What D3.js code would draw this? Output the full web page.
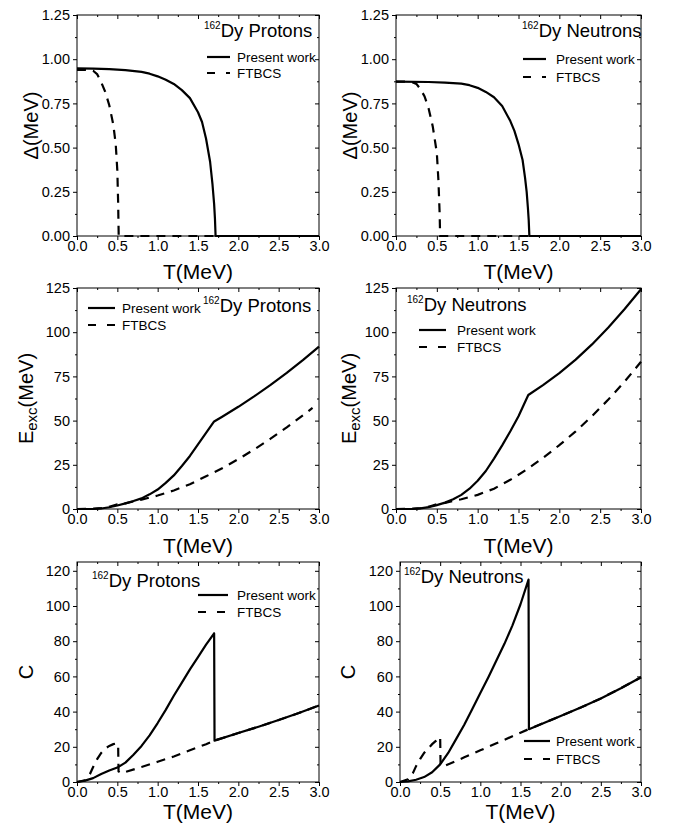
<!DOCTYPE html>
<html>
<head>
<meta charset="utf-8">
<script src="https://cdn.jsdelivr.net/npm/d3@7"></script>
<style>
body { margin: 0; background: #fff; }
svg { font-family: Arial, "Liberation Sans", sans-serif; }
</style>
</head>
<body>
<svg id="chart" width="673" height="830"></svg>
<script>
// Values: temperature T (MeV) and the quantity for each curve.

// Pairing gap, protons
var gapProtonPresentT = [0, 0.2, 0.4, 0.6, 0.8, 0.9, 1.0, 1.1, 1.2, 1.3, 1.4, 1.5, 1.55, 1.6, 1.65, 1.68, 1.7, 1.71, 1.718, 2.0, 2.5, 3.0];
var gapProtonPresent = [0.948, 0.947, 0.944, 0.938, 0.928, 0.918, 0.903, 0.884, 0.86, 0.825, 0.78, 0.70, 0.645, 0.55, 0.42, 0.29, 0.18, 0.10, 0, 0, 0, 0];
var gapProtonFtbcsT = [0, 0.1, 0.2, 0.25, 0.3, 0.35, 0.4, 0.45, 0.48, 0.5, 0.51, 0.517, 0.6, 1.0, 2.0, 3.0];
var gapProtonFtbcs = [0.94, 0.94, 0.935, 0.915, 0.87, 0.815, 0.74, 0.63, 0.52, 0.37, 0.19, 0, 0, 0, 0, 0];

// Pairing gap, neutrons
var gapNeutronPresentT = [0, 0.4, 0.6, 0.8, 0.9, 1.0, 1.1, 1.2, 1.3, 1.4, 1.45, 1.5, 1.55, 1.58, 1.6, 1.615, 1.625, 1.633, 2.0, 2.5, 3.0];
var gapNeutronPresent = [0.873, 0.871, 0.868, 0.862, 0.853, 0.838, 0.815, 0.785, 0.735, 0.65, 0.595, 0.52, 0.43, 0.33, 0.25, 0.16, 0.09, 0, 0, 0, 0];
var gapNeutronFtbcsT = [0, 0.1, 0.2, 0.25, 0.3, 0.35, 0.4, 0.45, 0.5, 0.52, 0.535, 0.54, 0.6, 1.0, 2.0, 3.0];
var gapNeutronFtbcs = [0.873, 0.873, 0.87, 0.86, 0.83, 0.79, 0.72, 0.62, 0.47, 0.31, 0.12, 0, 0, 0, 0, 0];

// Excitation energy, protons
var excProtonPresentT = [0, 0.2, 0.3, 0.4, 0.5, 0.6, 0.7, 0.8, 0.9, 1.0, 1.1, 1.2, 1.3, 1.4, 1.5, 1.6, 1.7, 1.8, 2.0, 2.2, 2.4, 2.6, 2.8, 3.0];
var excProtonPresent = [0, 0.05, 0.3, 1.0, 2.0, 3.2, 4.5, 6.0, 8.3, 11, 14.8, 19, 24.3, 30, 36.5, 43, 49.5, 52.2, 57.8, 63.8, 70.2, 77.0, 84.2, 91.8];
var excProtonFtbcsT = [0, 0.2, 0.3, 0.4, 0.5, 0.6, 0.8, 1.0, 1.2, 1.4, 1.6, 1.8, 2.0, 2.2, 2.4, 2.6, 2.8, 2.92];
var excProtonFtbcs = [0, 0.1, 0.5, 1.3, 2.6, 3.2, 5.3, 7.6, 10.5, 14, 18.5, 23, 28.2, 33.8, 39.8, 46.2, 53, 57.2];

// Excitation energy, neutrons
var excNeutronPresentT = [0, 0.2, 0.3, 0.4, 0.5, 0.6, 0.7, 0.8, 0.9, 1.0, 1.1, 1.2, 1.3, 1.4, 1.5, 1.6, 1.62, 1.8, 2.0, 2.2, 2.4, 2.6, 2.8, 3.0];
var excNeutronPresent = [0, 0.1, 0.4, 1.1, 2.2, 3.6, 5.5, 8, 11.5, 16, 21.5, 28.5, 36, 44, 52.5, 62.5, 64.5, 70.1, 76.9, 84.5, 93.1, 102.7, 113.1, 124.3];
var excNeutronFtbcsT = [0, 0.2, 0.3, 0.4, 0.5, 0.6, 0.8, 1.0, 1.2, 1.4, 1.6, 1.8, 2.0, 2.2, 2.4, 2.6, 2.8, 3.0];
var excNeutronFtbcs = [0, 0.1, 0.5, 1.3, 2.7, 3.5, 5.5, 8, 11.5, 16.5, 22.3, 28.9, 36.1, 43.9, 52.5, 61.9, 72.1, 83.3];

// Heat capacity, protons
var heatProtonPresentT = [0, 0.1, 0.2, 0.3, 0.4, 0.5, 0.6, 0.7, 0.8, 0.9, 1.0, 1.1, 1.2, 1.3, 1.4, 1.5, 1.6, 1.7, 1.705, 2.0, 2.25, 2.5, 2.75, 3.0];
var heatProtonPresent = [0, 0.8, 2.2, 4.5, 6.5, 8.2, 11, 15.5, 20.5, 26.5, 33.5, 41, 49, 56.5, 64, 71, 78, 84.5, 23.5, 27.8, 31.4, 35.2, 39.2, 43.5];
var heatProtonFtbcsT = [0, 0.1, 0.16, 0.2, 0.25, 0.3, 0.35, 0.4, 0.45, 0.5, 0.51, 0.515, 0.55, 0.8, 1.0, 1.2, 1.4, 1.6, 1.7, 2.0, 2.25, 2.5, 2.75, 3.0];
var heatProtonFtbcs = [0, 1, 4.5, 8.5, 13, 16.5, 19, 20.5, 21.5, 22, 21, 6, 5, 8.5, 11.5, 14.5, 18, 21.5, 23.5, 27.8, 31.4, 35.2, 39.2, 43.5];

// Heat capacity, neutrons
var heatNeutronPresentT = [0, 0.1, 0.2, 0.3, 0.4, 0.5, 0.6, 0.7, 0.8, 0.9, 1.0, 1.1, 1.2, 1.3, 1.4, 1.5, 1.6, 1.605, 2.0, 2.25, 2.5, 2.75, 3.0];
var heatNeutronPresent = [0, 0.4, 1.3, 2.8, 5.5, 10, 16.5, 24.5, 32.5, 41.5, 50.5, 59.5, 69, 78.5, 89, 101, 115, 30, 37.5, 42.3, 47.5, 53.3, 59.5];
var heatNeutronFtbcsT = [0, 0.1, 0.16, 0.2, 0.25, 0.3, 0.35, 0.4, 0.45, 0.5, 0.505, 0.55, 0.8, 1.0, 1.2, 1.4, 1.6, 2.0, 2.25, 2.5, 2.75, 3.0];
var heatNeutronFtbcs = [0, 1.5, 5, 9, 13, 16.5, 19, 21.5, 23.5, 25.5, 9.5, 9, 14, 18, 22, 26, 30, 37.5, 42.3, 47.5, 53.3, 59.5];

var xTicks = [0, 0.5, 1.0, 1.5, 2.0, 2.5, 3.0];
var seriesNames = ["Present work", "FTBCS"];

function zip(ts, vs) {
    return ts.map(function(t, i) { return [t, vs[i]]; });
}

// Layout of the six panels (pixel boxes, text placement).
var panels = [
    { box: [77, 319, 15, 236], ymax: 1.25, ystep: 0.25, fmt: ".2f", ylab: "gap", ylabX: 38,
      present: zip(gapProtonPresentT, gapProtonPresent), ftbcs: zip(gapProtonFtbcsT, gapProtonFtbcs),
      nucleus: "Protons", title: [204, 37], legend: [207, 230, 237, 57, 73], xlabY: 279 },
    { box: [396, 641, 15, 236], ymax: 1.25, ystep: 0.25, fmt: ".2f", ylab: "gap", ylabX: 357,
      present: zip(gapNeutronPresentT, gapNeutronPresent), ftbcs: zip(gapNeutronFtbcsT, gapNeutronFtbcs),
      nucleus: "Neutrons", title: [522, 37], legend: [523, 546, 556, 59, 77], xlabY: 279 },
    { box: [77, 319, 288, 509], ymax: 125, ystep: 25, fmt: "d", ylab: "exc", ylabX: 33,
      present: zip(excProtonPresentT, excProtonPresent), ftbcs: zip(excProtonFtbcsT, excProtonFtbcs),
      nucleus: "Protons", title: [203, 312], legend: [88, 115, 122, 308, 325], xlabY: 553 },
    { box: [396, 641, 288, 509], ymax: 125, ystep: 25, fmt: "d", ylab: "exc", ylabX: 356,
      present: zip(excNeutronPresentT, excNeutronPresent), ftbcs: zip(excNeutronFtbcsT, excNeutronFtbcs),
      nucleus: "Neutrons", title: [407, 311], legend: [419, 446, 457, 330, 347], xlabY: 553 },
    { box: [77, 319, 562, 782], ymax: 125, ystep: 20, fmt: "d", ylab: "C", ylabX: 33,
      present: zip(heatProtonPresentT, heatProtonPresent), ftbcs: zip(heatProtonFtbcsT, heatProtonFtbcs),
      nucleus: "Protons", title: [92, 587], legend: [198, 228, 237, 595, 612], xlabY: 819 },
    { box: [400, 641, 562, 782], ymax: 125, ystep: 20, fmt: "d", ylab: "C", ylabX: 355,
      present: zip(heatNeutronPresentT, heatNeutronPresent), ftbcs: zip(heatNeutronFtbcsT, heatNeutronFtbcs),
      nucleus: "Neutrons", title: [404, 583], legend: [524, 550, 556, 741, 759], xlabY: 819 }
];

var svg = d3.select("#chart");

panels.forEach(function(p) {
    var x = d3.scaleLinear().domain([0, 3]).range([p.box[0], p.box[1]]);
    var y = d3.scaleLinear().domain([0, p.ymax]).range([p.box[3], p.box[2]]);
    var g = svg.append("g");

    var last = p.ymax === 125 && p.ystep === 20 ? 120 : p.ymax;
    var yMajor = d3.range(0, last + 1e-9, p.ystep);
    var yMinor = d3.range(0, last + 1e-9, p.ystep / 2).filter(function(v) {
        return yMajor.indexOf(v) < 0;
    });
    var xMinor = d3.range(0.25, 3, 0.5);

    function styleAxis(a) {
        a.select(".domain").remove();
        a.selectAll("line").attr("stroke", "#000").attr("stroke-width", 1);
        a.selectAll("text").attr("fill", "#000").style("font-size", "14.5px")
            .style("font-family", "Arial, 'Liberation Sans', sans-serif");
    }

    // left and bottom axes, ticks out
    g.append("g").attr("transform", "translate(" + p.box[0] + ",0)")
        .call(d3.axisLeft(y).tickValues(yMajor).tickSize(4).tickPadding(3).tickFormat(d3.format(p.fmt)))
        .call(styleAxis);
    g.append("g").attr("transform", "translate(" + p.box[0] + ",0)")
        .call(d3.axisLeft(y).tickValues(yMinor).tickSize(2).tickFormat(""))
        .call(styleAxis);
    g.append("g").attr("transform", "translate(0," + p.box[3] + ")")
        .call(d3.axisBottom(x).tickValues(xTicks).tickSize(4).tickPadding(1).tickFormat(d3.format(".1f")))
        .call(styleAxis);
    g.append("g").attr("transform", "translate(0," + p.box[3] + ")")
        .call(d3.axisBottom(x).tickValues(xMinor).tickSize(2).tickFormat(""))
        .call(styleAxis);

    // top and right mirror ticks, pointing in
    g.append("g").attr("transform", "translate(" + p.box[1] + ",0)")
        .call(d3.axisRight(y).tickValues(yMajor).tickSize(-4).tickFormat(""))
        .call(styleAxis);
    g.append("g").attr("transform", "translate(" + p.box[1] + ",0)")
        .call(d3.axisRight(y).tickValues(yMinor).tickSize(-2).tickFormat(""))
        .call(styleAxis);
    g.append("g").attr("transform", "translate(0," + p.box[2] + ")")
        .call(d3.axisTop(x).tickValues(xTicks).tickSize(-4).tickFormat(""))
        .call(styleAxis);
    g.append("g").attr("transform", "translate(0," + p.box[2] + ")")
        .call(d3.axisTop(x).tickValues(xMinor).tickSize(-2).tickFormat(""))
        .call(styleAxis);

    g.append("rect")
        .attr("x", p.box[0]).attr("y", p.box[2])
        .attr("width", p.box[1] - p.box[0]).attr("height", p.box[3] - p.box[2])
        .attr("fill", "none").attr("stroke", "#000").attr("stroke-width", 1);

    var line = d3.line()
        .x(function(d) { return x(d[0]); })
        .y(function(d) { return y(d[1]); });

    g.append("path").datum(p.ftbcs)
        .attr("d", line).attr("fill", "none")
        .attr("stroke", "#000").attr("stroke-width", 2.2)
        .attr("stroke-dasharray", "9,7");
    g.append("path").datum(p.present)
        .attr("d", line).attr("fill", "none")
        .attr("stroke", "#000").attr("stroke-width", 2.2)
        .attr("stroke-linejoin", "round");

    // nucleus title
    var t = g.append("text").attr("x", p.title[0]).attr("y", p.title[1]).attr("fill", "#000");
    t.append("tspan").attr("font-size", "10px").attr("dy", -8).text("162");
    t.append("tspan").attr("font-size", "18.5px").attr("dy", 8).text("Dy " + p.nucleus);

    // legend
    var L = p.legend;
    [L[3], L[4]].forEach(function(ly, i) {
        g.append("line")
            .attr("x1", L[0]).attr("x2", L[1]).attr("y1", ly).attr("y2", ly)
            .attr("stroke", "#000").attr("stroke-width", 2.2)
            .attr("stroke-dasharray", i ? "8,11" : null);
        g.append("text")
            .attr("x", L[2]).attr("y", ly).attr("dy", "0.35em")
            .attr("font-size", "13.5px").attr("fill", "#000")
            .text(seriesNames[i]);
    });

    // axis titles
    g.append("text")
        .attr("x", (p.box[0] + p.box[1]) / 2).attr("y", p.xlabY)
        .attr("text-anchor", "middle").attr("font-size", "21px").attr("fill", "#000")
        .text("T(MeV)");

    var yl = g.append("text")
        .attr("transform", "translate(" + p.ylabX + "," + (p.box[2] + p.box[3]) / 2 + ") rotate(-90)")
        .attr("text-anchor", "middle").attr("font-size", "20px").attr("fill", "#000");
    if (p.ylab === "gap") {
        yl.text("\u0394(MeV)");
    } else if (p.ylab === "exc") {
        yl.append("tspan").text("E");
        yl.append("tspan").attr("font-size", "15px").attr("dy", 4).text("exc");
        yl.append("tspan").attr("dy", -4).text("(MeV)");
    } else {
        yl.text("C");
    }
});
</script>
</body>
</html>
